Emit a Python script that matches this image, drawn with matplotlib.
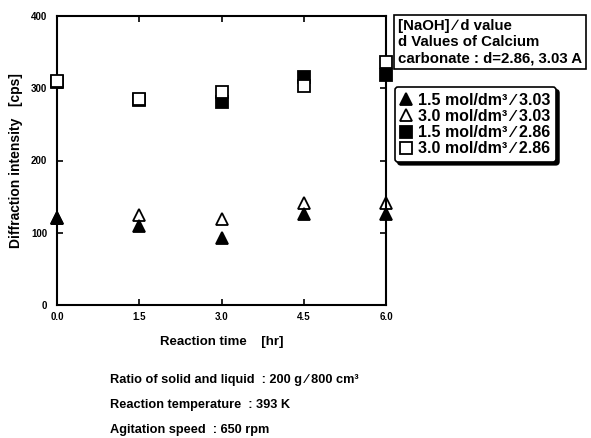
import matplotlib
matplotlib.use('Agg')
import matplotlib.pyplot as plt

plt.rcParams['font.family'] = ['Liberation Sans', 'DejaVu Sans']
plt.rcParams['font.weight'] = 'bold'
plt.rcParams['axes.labelweight'] = 'bold'

# reaction time [hr]
times = [0.0, 1.5, 3.0, 4.5, 6.0]
# diffraction intensity [cps]
tri_filled = [120, 109, 93, 126, 126]     # 1.5 mol/dm3 / 3.03
tri_open = [120, 124, 119, 141, 141]      # 3.0 mol/dm3 / 3.03
sq_filled = [308, 284, 281, 315, 318]     # 1.5 mol/dm3 / 2.86
sq_open = [310, 285, 295, 303, 337]       # 3.0 mol/dm3 / 2.86

labels = ['1.5 mol/dm³ ∕ 3.03', '3.0 mol/dm³ ∕ 3.03',
          '1.5 mol/dm³ ∕ 2.86', '3.0 mol/dm³ ∕ 2.86']
xticks = [0.0, 1.5, 3.0, 4.5, 6.0]
yticks = [0, 100, 200, 300, 400]

fig = plt.figure(figsize=(5.91, 4.38), dpi=100)
ax = fig.add_axes([57 / 591, 1 - 305 / 438, (386 - 57) / 591, (305 - 16) / 438])

ms = 8.5
h1, = ax.plot(times, tri_filled, '^', ms=ms, mfc='black', mec='black', mew=1.3, clip_on=False, zorder=3)
h2, = ax.plot(times, tri_open, '^', ms=ms, mfc='white', mec='black', mew=1.3, clip_on=False, zorder=2)
h3, = ax.plot(times, sq_filled, 's', ms=ms, mfc='black', mec='black', mew=1.3, clip_on=False, zorder=3)
h4, = ax.plot(times, sq_open, 's', ms=ms, mfc='white', mec='black', mew=1.3, clip_on=False, zorder=4)

ax.set_xlim(0, 6)
ax.set_ylim(0, 400)
ax.set_xticks(xticks)
ax.set_xticklabels([f'{t:.1f}' for t in xticks], fontweight='bold')
ax.set_yticks(yticks)
ax.set_yticklabels([str(v) for v in yticks], fontweight='bold')
ax.tick_params(direction='in', top=True, right=True, length=4, width=1.2, labelsize=7, pad=5)
ax.tick_params(axis='y', pad=7)
for s in ax.spines.values():
    s.set_linewidth(1.5)

ax.set_xlabel('Reaction time    [hr]', fontsize=9.5, labelpad=10)
ax.set_ylabel('Diffraction intensity   [cps]', fontsize=10, labelpad=6)

fig.text(398 / 591, 1 - 19 / 438,
         '[NaOH] ∕ d value\nd Values of Calcium\ncarbonate : d=2.86, 3.03 A',
         fontsize=10.8, va='top', ha='left', linespacing=1.2,
         bbox=dict(boxstyle='square,pad=0.25', fc='white', ec='black', lw=1.2))

leg = fig.legend([h1, h2, h3, h4], labels, loc='upper left',
                 bbox_to_anchor=(395 / 591, 1 - 87 / 438), bbox_transform=fig.transFigure,
                 prop={'size': 11.5, 'weight': 'bold'}, handlelength=0.7, handletextpad=0.4,
                 borderpad=0.35, labelspacing=0.08, borderaxespad=0, fancybox=True, framealpha=1,
                 shadow={'color': 'black', 'alpha': 1})
leg.get_frame().set_edgecolor('black')
leg.get_frame().set_linewidth(1.2)

notes = ['Ratio of solid and liquid  : 200 g ∕ 800 cm³',
         'Reaction temperature  : 393 K',
         'Agitation speed  : 650 rpm']
for i, line in enumerate(notes):
    fig.text(110 / 591, 1 - (380 + 25 * i) / 438, line, fontsize=9.2, va='center', ha='left')

fig.savefig('out.png', dpi=100)
